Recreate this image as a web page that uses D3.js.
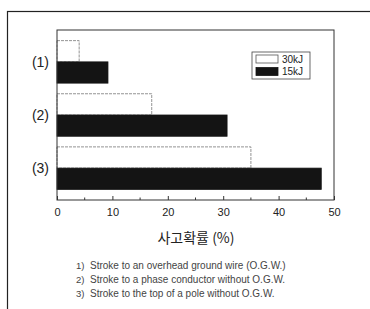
<!DOCTYPE html>
<html>
<head>
<meta charset="utf-8">
<script src="https://cdn.jsdelivr.net/npm/d3@7"></script>
<style>
  body { margin: 0; background: #fff; }
  svg { display: block; }
</style>
</head>
<body>
<div id="chart"></div>
<script>
// data
const cases = ["(1)", "(2)", "(3)"];
const series = ["30kJ", "15kJ"];
const prob30 = [4.0, 17.1, 35.0];
const prob15 = [9.2, 30.7, 47.7];
const xTicks = [0, 10, 20, 30, 40, 50];
const noteNums = ["1)", "2)", "3)"];
const notes = [
  "Stroke to an overhead ground wire (O.G.W.)",
  "Stroke to a phase conductor without O.G.W.",
  "Stroke to the top of a pole without O.G.W."
];

const W = 370, H = 309;
const plot = { left: 57, right: 334, top: 30, bottom: 200 };
const font = "Liberation Sans, Arial, sans-serif";

const svg = d3.select("#chart").append("svg")
  .attr("width", W).attr("height", H);

// outer frame (runs off the right/bottom of the picture)
svg.append("rect")
  .attr("x", 7.5).attr("y", 11.5)
  .attr("width", W + 10).attr("height", H + 10)
  .attr("fill", "none").attr("stroke", "#222").attr("stroke-width", 1.2);

const x = d3.scaleLinear().domain([0, 50]).range([plot.left, plot.right]);
const y = d3.scaleBand().domain(cases).range([plot.top, plot.bottom])
  .paddingInner(0.2).paddingOuter(0.2);
const ySub = d3.scaleBand().domain(series).range([0, y.bandwidth()]);

const rows = cases.map((c, i) => ({ c, vals: [prob30[i], prob15[i]] }));

const grp = svg.append("g").selectAll(".grp").data(rows).enter().append("g")
  .attr("transform", d => "translate(0," + y(d.c) + ")");

grp.selectAll("rect")
  .data(d => d.vals.map((v, j) => ({ key: series[j], v })))
  .enter().append("rect")
  .attr("x", x(0))
  .attr("y", d => ySub(d.key))
  .attr("width", d => x(d.v) - x(0))
  .attr("height", ySub.bandwidth())
  .attr("fill", d => d.key === "15kJ" ? "#141414" : "#fff")
  .attr("stroke", d => d.key === "15kJ" ? "#141414" : "#777")
  .attr("stroke-width", 0.8)
  .attr("stroke-dasharray", d => d.key === "15kJ" ? null : "3,1");

// plot frame
svg.append("rect")
  .attr("x", plot.left).attr("y", plot.top)
  .attr("width", plot.right - plot.left).attr("height", plot.bottom - plot.top)
  .attr("fill", "none").attr("stroke", "#333").attr("stroke-width", 1);

// bottom axis, ticks inside
const ax = svg.append("g").attr("transform", "translate(0," + plot.bottom + ")")
  .call(d3.axisBottom(x).tickValues(xTicks).tickSizeInner(-4).tickSizeOuter(0).tickPadding(8));
ax.select(".domain").remove();
ax.selectAll("line").attr("stroke", "#333");
ax.selectAll("text").attr("font-family", font)
  .attr("font-size", 11).attr("fill", "#222");
const minor = d3.range(5, 50, 10);
svg.append("g").selectAll("line").data(minor).enter().append("line")
  .attr("x1", d => x(d)).attr("x2", d => x(d))
  .attr("y1", plot.bottom).attr("y2", plot.bottom - 2.5)
  .attr("stroke", "#333");

// category labels
svg.append("g").selectAll("text").data(cases).enter().append("text")
  .attr("x", 49)
  .attr("y", d => y(d) + y.bandwidth() / 2)
  .attr("dy", "0.35em")
  .attr("text-anchor", "end")
  .attr("font-family", font)
  .attr("font-size", 14).attr("fill", "#222")
  .text(d => d);

// axis title
svg.append("text")
  .attr("x", 196).attr("y", 243)
  .attr("text-anchor", "middle")
  .attr("font-family", "Noto Sans CJK KR, sans-serif")
  .attr("font-size", 14).attr("fill", "#222")
  .text("사고확률 (%)");

// footnotes
const fn = svg.append("g").selectAll("g").data(notes).enter().append("g")
  .attr("transform", (d, i) => "translate(0," + (268.5 + i * 14.3) + ")");
fn.append("text")
  .attr("x", 76)
  .attr("font-family", font).attr("font-size", 9.5).attr("fill", "#444")
  .text((d, i) => noteNums[i]);
fn.append("text")
  .attr("x", 90)
  .attr("font-family", font).attr("font-size", 10).attr("fill", "#444")
  .text(d => d);

// legend
const lg = svg.append("g").attr("transform", "translate(252,52)");
lg.append("rect").attr("width", 58).attr("height", 27)
  .attr("fill", "#fff").attr("stroke", "#444").attr("stroke-width", 0.8);
series.forEach((s, i) => {
  lg.append("rect")
    .attr("x", 4).attr("y", 3 + i * 12.5)
    .attr("width", 22).attr("height", 8)
    .attr("fill", s === "15kJ" ? "#141414" : "#fff")
    .attr("stroke", s === "15kJ" ? "#141414" : "#555").attr("stroke-width", 0.8);
  lg.append("text")
    .attr("x", 30).attr("y", 7 + i * 12.5).attr("dy", "0.35em")
    .attr("font-family", font)
    .attr("font-size", 10).attr("fill", "#222")
    .text(s);
});
</script>
</body>
</html>
